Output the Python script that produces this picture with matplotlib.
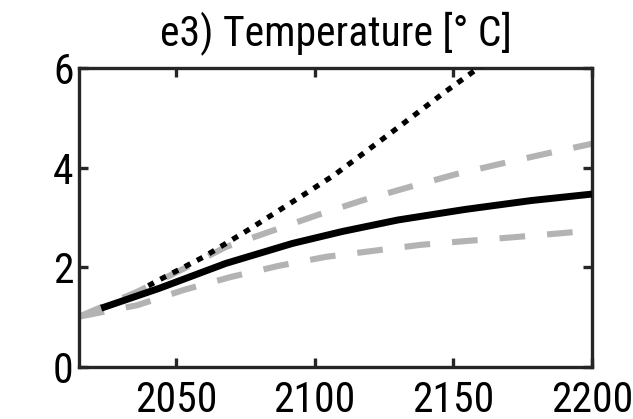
import matplotlib
matplotlib.use("Agg")
import matplotlib.pyplot as plt
from matplotlib import font_manager

# values
years_solid = [2023, 2044, 2068, 2092, 2110, 2130, 2154, 2178, 2200]
temp_solid = [1.18, 1.58, 2.08, 2.48, 2.72, 2.95, 3.16, 3.34, 3.47]

years_dotted = [2040, 2044, 2060, 2076, 2095, 2107, 2128, 2147, 2158, 2165]
temp_dotted = [1.63, 1.75, 2.21, 2.75, 3.42, 3.85, 4.72, 5.52, 5.96, 6.25]

years_upper = [2015, 2036, 2053, 2068, 2084, 2101, 2117, 2134, 2151, 2168, 2185, 2200]
temp_upper = [1.01, 1.51, 1.98, 2.41, 2.72, 3.05, 3.34, 3.61, 3.87, 4.09, 4.30, 4.48]

years_lower = [2015, 2036, 2053, 2070, 2087, 2104, 2121, 2138, 2155, 2173, 2190, 2200]
temp_lower = [1.01, 1.24, 1.55, 1.81, 2.03, 2.21, 2.33, 2.45, 2.53, 2.61, 2.69, 2.74]

x_ticks = [2050, 2100, 2150, 2200]
y_ticks = [0, 2, 4, 6]
title = "e3) Temperature [° C]"


def pick_narrow_font():
    # the original uses a narrow sans; take the first narrow face that is installed
    wanted = ["Liberation Sans Narrow", "Arial Narrow", "Roboto Condensed",
              "Noto Sans", "Open Sans", "DejaVu Sans"]
    narrow = ("condensed", "semi-condensed", "extra-condensed", "ultra-condensed")
    faces = font_manager.fontManager.ttflist
    for name in wanted:
        for f in faces:
            if f.name != name or f.style != "normal" or f.weight not in (400, "normal", "regular"):
                continue
            if "Narrow" in name or "Condensed" in name:
                return f.fname, True
            if f.stretch in narrow or "Condensed" in f.fname:
                return f.fname, True
    return None, False


fname, is_narrow = pick_narrow_font()
if fname:
    font_manager.fontManager.addfont(fname)
    prop = font_manager.FontProperties(fname=fname)
else:
    prop = font_manager.FontProperties(family="Liberation Sans")
size = 30 if is_narrow else 26
prop.set_size(size)

fig = plt.figure(figsize=(6.33, 4.19), dpi=100)
ax = fig.add_axes([0.1248, 0.1241, 0.8104, 0.7136])

gray = "#b3b3b3"
ax.plot(years_upper, temp_upper, color=gray, linewidth=4.4,
        dashes=(4.2, 3.6), dash_capstyle="butt", zorder=2)
ax.plot(years_lower, temp_lower, color=gray, linewidth=4.4,
        dashes=(4.2, 3.6), dash_capstyle="butt", zorder=2)
ax.plot(years_solid, temp_solid, color="black", linewidth=5, solid_capstyle="butt", zorder=3)
ax.plot(years_dotted, temp_dotted, color="black", linewidth=3.8,
        dashes=(1.2, 1.4), dash_capstyle="butt", zorder=3)

ax.set_xlim(2015, 2200)
ax.set_ylim(0, 6)
ax.set_xticks(x_ticks)
ax.set_yticks(y_ticks)

for side in ax.spines.values():
    side.set_linewidth(2.4)
    side.set_color("#262626")

ax.tick_params(direction="in", length=6.5, width=2.4, color="#262626",
               top=True, right=True)
ax.tick_params(axis="x", pad=9)
ax.tick_params(axis="y", pad=4)
for lab in ax.get_xticklabels() + ax.get_yticklabels():
    lab.set_fontproperties(prop)

ax.set_title(title, fontproperties=prop, pad=16)

fig.savefig("out.png", dpi=100)
